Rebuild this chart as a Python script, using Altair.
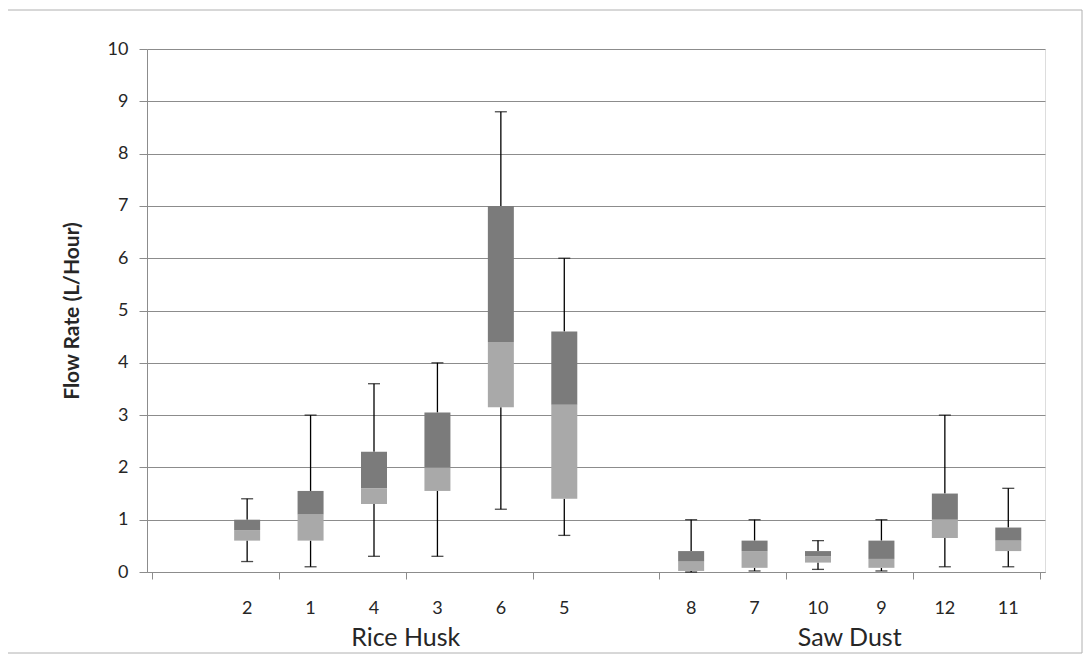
import altair as alt
import pandas as pd

# Category slots along the x axis (blank slots are spacers, as in the source)
categories = ["", "2", "1", "4", "3", "6", "5", "", "8", "7", "10", "9", "12", "11"]
groups = ["Rice Husk"] * 8 + ["Saw Dust"] * 6

# Box-plot statistics (L/Hour) for the non-blank categories, in slot order
mins = [0.2, 0.1, 0.3, 0.3, 1.2, 0.7, 0.0, 0.02, 0.05, 0.02, 0.1, 0.1]
q1s = [0.6, 0.6, 1.3, 1.55, 3.15, 1.4, 0.02, 0.08, 0.18, 0.08, 0.65, 0.4]
medians = [0.8, 1.1, 1.6, 2.0, 4.4, 3.2, 0.2, 0.4, 0.3, 0.25, 1.0, 0.6]
q3s = [1.0, 1.55, 2.3, 3.05, 7.0, 4.6, 0.4, 0.6, 0.4, 0.6, 1.5, 0.85]
maxs = [1.4, 3.0, 3.6, 4.0, 8.8, 6.0, 1.0, 1.0, 0.6, 1.0, 3.0, 1.6]

y_ticks = list(range(0, 11))

# ---- build tables ----
slots = [i for i, c in enumerate(categories) if c != ""]
df = pd.DataFrame({
    "label": [categories[i] for i in slots],
    "pos": [i + 0.5 for i in slots],
    "mn": mins, "q1": q1s, "med": medians, "q3": q3s, "mx": maxs,
})
gnames = list(dict.fromkeys(groups))
gdf = pd.DataFrame({
    "group": gnames,
    "pos": [(min(i for i, g in enumerate(groups) if g == n) +
             max(i for i, g in enumerate(groups) if g == n) + 1) / 2 for n in gnames],
})
frame_df = pd.DataFrame({"k": [0]})

W, H = 898, 523
PAD_B = 82
FONT = "Lato"
GRID = "#8c8c8c"
TXT = "#262626"
n_slots = len(categories)

xs = alt.Scale(domain=[0, n_slots], nice=False, zero=False)
ys = alt.Scale(domain=[0, 10], nice=False)

base = alt.Chart(df)

x_enc = alt.X("pos:Q", scale=xs, axis=alt.Axis(
    values=list(range(0, n_slots + 1, 2)), labels=False, title=None, grid=False,
    tickSize=7, tickColor=GRID, domainColor=GRID, domainWidth=1, tickWidth=1))

y_axis = alt.Axis(
    values=y_ticks, title="Flow Rate (L/Hour)", grid=True, gridColor=GRID, gridWidth=1,
    tickSize=8, tickColor=GRID, domainColor=GRID, labelPadding=11,
    labelFont=FONT, labelFontSize=18, labelColor=TXT,
    titleFont=FONT, titleFontSize=21, titleFontWeight="bold", titleColor=TXT,
    titleX=-75, titleY=H / 2, titleAngle=270, titleBaseline="middle", titleAlign="center")

lower_whisker = base.mark_rule(color="black", strokeWidth=1.3).encode(
    x=x_enc, y=alt.Y("mn:Q", scale=ys, axis=y_axis), y2="q1:Q")
upper_whisker = base.mark_rule(color="black", strokeWidth=1.3).encode(
    x="pos:Q", y="q3:Q", y2="mx:Q")
cap_low = base.mark_tick(color="black", orient="horizontal", size=12, thickness=1.3).encode(
    x="pos:Q", y="mn:Q")
cap_high = base.mark_tick(color="black", orient="horizontal", size=12, thickness=1.3).encode(
    x="pos:Q", y="mx:Q")
box_low = base.mark_bar(size=26, color="#a9a9a9").encode(
    x="pos:Q", y="q1:Q", y2="med:Q")
box_high = base.mark_bar(size=26, color="#7b7b7b").encode(
    x="pos:Q", y="med:Q", y2="q3:Q")

cat_text = base.mark_text(font=FONT, fontSize=18, color=TXT, baseline="middle").encode(
    x="pos:Q", y=alt.value(H + 37), text="label:N")
group_text = alt.Chart(gdf).mark_text(font=FONT, fontSize=25, color=TXT,
                                      baseline="alphabetic").encode(
    x="pos:Q", y=alt.value(H + 74), text="group:N")

frame = alt.Chart(frame_df).mark_rect(fill=None, stroke="#b0b0b0", strokeWidth=1).encode(
    x=alt.value(-140), x2=alt.value(935), y=alt.value(-39), y2=alt.value(H + PAD_B - 1))

chart = alt.layer(
    frame, lower_whisker, upper_whisker, cap_low, cap_high, box_low, box_high,
    cat_text, group_text
).properties(
    width=W, height=H,
    autosize=alt.AutoSizeParams(type="none"),
    padding={"left": 139, "top": 41, "right": 38, "bottom": PAD_B},
).configure_view(stroke=None).configure(background="white")

chart.save("out.html", embed_options={"renderer": "svg", "actions": False})
